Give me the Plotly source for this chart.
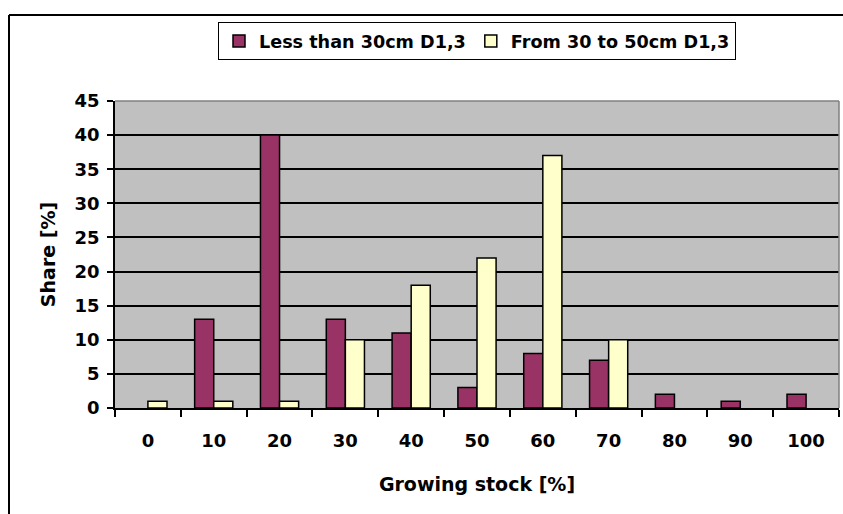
import plotly.graph_objects as go

categories = ["0", "10", "20", "30", "40", "50", "60", "70", "80", "90", "100"]
less_than_30 = [0, 13, 40, 13, 11, 3, 8, 7, 2, 1, 2]
from_30_to_50 = [1, 1, 1, 10, 18, 22, 37, 10, 0, 0, 0]
y_ticks = [0, 5, 10, 15, 20, 25, 30, 35, 40, 45]

FONT = "DejaVu Sans"
W, H = 843, 514
L, R, T, B = 115, 4, 101, 106
pw = W - L - R
ph = H - T - B


def hide_zero(vals):
    return [v if v else None for v in vals]


fig = go.Figure()
fig.add_trace(go.Bar(x=categories, y=hide_zero(less_than_30), name="<b>Less than 30cm D1,3</b>",
                     marker=dict(color="#993366", line=dict(color="black", width=1.5))))
fig.add_trace(go.Bar(x=categories, y=hide_zero(from_30_to_50), name="<b>From 30 to 50cm D1,3</b>",
                     marker=dict(color="#FFFFCC", line=dict(color="black", width=1.5))))

fig.update_layout(
    width=W, height=H,
    margin=dict(l=L, r=R, t=T, b=B, pad=0),
    paper_bgcolor="white",
    plot_bgcolor="#C0C0C0",
    barmode="group",
    bargap=0.42,
    bargroupgap=0,
    font=dict(family=FONT, size=18, color="black"),
    legend=dict(orientation="h", x=(218 - L) / pw, y=1 + (T - 22) / ph,
                xanchor="left", yanchor="top",
                bordercolor="black", borderwidth=1, bgcolor="white",
                font=dict(family=FONT, size=17.6), itemwidth=30,
                tracegroupgap=0),
    showlegend=True,
)

fig.update_xaxes(
    type="category", automargin=False,
    showline=True, linecolor="black", linewidth=1.5,
    ticks="outside", tickson="boundaries", ticklen=7, tickcolor="black", tickwidth=1.5,
    tickfont=dict(family=FONT, size=18, weight="bold"),
    ticklabelstandoff=16,
    showgrid=False,
    title=dict(text="<b>Growing stock [%]</b>", font=dict(family=FONT, size=19), standoff=27),
)
fig.update_yaxes(
    range=[0, 45], tickvals=y_ticks, automargin=False,
    showline=True, linecolor="black", linewidth=1.5,
    ticks="outside", ticklen=6, tickcolor="black", tickwidth=1.5,
    tickfont=dict(family=FONT, size=18, weight="bold"),
    ticklabelstandoff=4,
    showgrid=True, gridcolor="black", gridwidth=1.5,
    zeroline=False,
    title=dict(text="<b>Share [%]</b>", font=dict(family=FONT, size=19), standoff=14),
)

# plot-area border (top and right, grey)
fig.add_shape(type="line", xref="paper", yref="paper", x0=0, x1=1, y0=1, y1=1,
              line=dict(color="#808080", width=1.5))
fig.add_shape(type="line", xref="paper", yref="paper", x0=1, x1=1, y0=0, y1=1,
              line=dict(color="#808080", width=1.5))
# outer chart border (left and top visible)
bx = (9 - L) / pw
by = 1 + (T - 15) / ph
fig.add_shape(type="line", xref="paper", yref="paper", x0=bx, x1=1.2, y0=by, y1=by,
              line=dict(color="black", width=2))
fig.add_shape(type="line", xref="paper", yref="paper", x0=bx, x1=bx, y0=-1, y1=by,
              line=dict(color="black", width=2))

fig.write_html("out.html", config={"displayModeBar": False},
               post_script="document.body.style.margin='0';")
